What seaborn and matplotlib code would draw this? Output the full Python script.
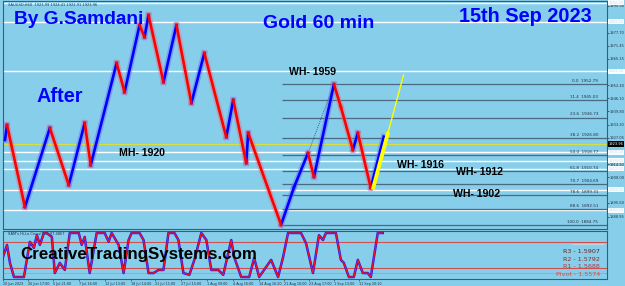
import matplotlib
matplotlib.use("Agg")
import matplotlib.pyplot as plt
import matplotlib.transforms as mtransforms
import numpy as np
import pandas as pd
import seaborn as sns

# ---------------- data ----------------
# price path pivots (bar position, price)
pivot_bar = [3, 5, 23, 48, 67, 83, 89, 115, 123, 138, 143, 147, 162, 175, 190, 203,
             225, 232, 245, 247, 280, 293, 307, 313, 333, 340, 352, 357, 370, 383]
pivot_price = [1925.9, 1933.1, 1893.6, 1931.7, 1904.2, 1934.1, 1913.8, 1963.0, 1949.0,
               1981.3, 1975.5, 1986.1, 1953.8, 1981.3, 1943.7, 1967.8, 1927.3, 1945.2,
               1914.8, 1929.3, 1885.0, 1903.2, 1919.6, 1908.1, 1952.8, 1941.8, 1921.1,
               1929.3, 1902.8, 1927.5]

# projection (yellow) and fib anchor
proj_bar = [372, 403]
proj_price = [1902.0, 1957.5]
fib_high = 1952.79
fib_low = 1884.75
fib_start_bar = 281
fib_levels = [0.0, 11.4, 23.6, 38.2, 50.0, 61.8, 70.7, 78.6, 88.6, 100.0]
fib_draw_from = [280, 333]

# white horizontal levels
white_levels = [1992.0, 1983.0, 1959.0, 1920.0, 1916.0, 1912.0, 1902.0, 1892.0]
current_price = 1923.96

level_labels = ["WH- 1959", "MH- 1920", "WH- 1916", "WH- 1912", "WH- 1902"]
level_label_bar = [288, 117, 396, 455, 452]
level_label_price = [1957.2, 1918.1, 1912.6, 1908.8, 1898.2]

# price axis ticks
price_ticks = [1990.50, 1977.70, 1971.45, 1965.15, 1952.40, 1946.10, 1939.80,
               1933.30, 1927.05, 1914.30, 1908.00, 1895.60, 1888.95]

# oscillator
osc_bar = [0, 5, 8, 12, 22, 28, 32, 35, 38, 42, 45, 50, 53, 58, 63, 68, 77, 80, 83, 88,
           95, 103, 107, 110, 117, 122, 127, 130, 138, 142, 147, 152, 157, 162, 167, 173,
           177, 182, 188, 193, 200, 205, 210, 217, 222, 230, 233, 240, 248, 253, 258, 270,
           277, 282, 287, 300, 305, 312, 318, 322, 325, 335, 340, 343, 348, 353, 357, 362,
           367, 370, 377, 382]
osc_val = [39, 73, 32, 0, 0, 80, 66, 95, 73, 100, 100, 91, 9, 32, 16, 100, 100, 73, 91, 9,
           100, 100, 80, 100, 73, 9, 84, 100, 100, 84, 9, 9, 16, 16, 100, 100, 84, 9, 5, 39,
           100, 84, 16, 16, 5, 84, 45, 0, 0, 43, 0, 39, 0, 45, 100, 100, 77, 9, 95, 84, 100,
           100, 39, 32, 0, 0, 39, 9, 9, 0, 100, 100]
osc_levels = [80, 20]

date_labels = ["20 Jun 2023", "26 Jun 17:00", "5 Jul 21:00", "7 Jul 16:00", "12 Jul 13:00",
               "18 Jul 14:00", "21 Jul 11:00", "27 Jul 15:00", "1 Aug 09:00", "4 Aug 16:00",
               "14 Aug 16:20", "21 Aug 10:00", "23 Aug 17:00", "1 Sep 13:00", "11 Sep 20:10"]
date_bar = [1, 26, 51, 77, 103, 129, 154, 180, 206, 232, 258, 283, 308, 333, 358]

pivot_names = ["R3 - 1.5907", "R2 - 1.5792", "R1 - 1.5688", "Pivot - 1.5574"]
pivot_colors = ["#6a2020", "#8a2a2a", "#c03030", "#e04a3a"]

# ---------------- style ----------------
BG = "#87CEEB"
W, H = 625, 286
plt.rcParams["font.family"] = ["Liberation Sans", "DejaVu Sans"]

fig = plt.figure(figsize=(W / 100, H / 100), dpi=100, facecolor=BG)

def ax_rect(x0, y0, x1, y1):
    return [x0 / W, 1 - y1 / H, (x1 - x0) / W, (y1 - y0) / H]

ax = fig.add_axes(ax_rect(3, 1, 607, 229), facecolor=BG)
ax2 = fig.add_axes(ax_rect(3, 231, 607, 279), facecolor=BG, sharex=ax)

ax.set_xlim(3, 607)
ax.set_ylim(1883.0, 1992.9)
ax2.set_ylim(-4.5, 104.5)

for a in (ax, ax2):
    for s in a.spines.values():
        s.set_color("#3c5c72")
        s.set_linewidth(0.8)

# white levels
for lv in white_levels:
    ax.axhline(lv, color="white", lw=1.0, zorder=1)
ax.axhline(current_price, color="#d8e040", lw=0.8, zorder=1)

# fib lines
rng = fib_high - fib_low
for lv in fib_levels:
    p = fib_high - rng * lv / 100.0
    ax.hlines(p, fib_start_bar, 607, color="#4a6a82", lw=0.9, zorder=1)
    ax.text(598, p + 0.6, f"{lv:.1f}  {p:.2f}", fontsize=3.0, color="#203040",
            ha="right", va="bottom", family="DejaVu Sans")

# dotted fib trend
ax.plot(fib_draw_from, [fib_low, fib_high], color="#2a3a50", lw=0.6, ls=(0, (1, 1.5)), zorder=2)

# price path segments
rows = []
for i in range(len(pivot_bar) - 1):
    d = "up" if pivot_price[i + 1] > pivot_price[i] else "down"
    rows.append(dict(seg=i, bar=pivot_bar[i], price=pivot_price[i], dir=d))
    rows.append(dict(seg=i, bar=pivot_bar[i + 1], price=pivot_price[i + 1], dir=d))
df = pd.DataFrame(rows)

sns.lineplot(data=df, x="bar", y="price", units="seg", hue="dir", estimator=None,
             palette={"up": "#6a6aff", "down": "#e07080"}, lw=4.2, alpha=0.45,
             legend=False, sort=False, ax=ax, zorder=3)
sns.lineplot(data=df, x="bar", y="price", units="seg", hue="dir", estimator=None,
             palette={"up": "#0000ff", "down": "#ff0000"}, lw=1.9,
             legend=False, sort=False, ax=ax, zorder=4)

# yellow projection (tapered)
ax.plot(proj_bar, proj_price, color="#ffff00", lw=1.0, zorder=5, solid_capstyle="butt")
mid_bar = [proj_bar[0], (proj_bar[0] + proj_bar[1]) / 2]
mid_price = [proj_price[0], (proj_price[0] + proj_price[1]) / 2]
ax.plot(mid_bar, mid_price, color="#ffff00", lw=2.8, zorder=5, solid_capstyle="butt")

# titles
ax.text(12, 1992.9 - (24.3 - 1) * 0.482, "By G.Samdani", fontsize=13.8, fontweight="bold",
        color="#0000ff", va="baseline", ha="left", zorder=6)
ax.text(262, 1992.9 - (28.3 - 1) * 0.482, "Gold 60 min", fontsize=14, fontweight="bold",
        color="#0000ff", va="baseline", ha="left", zorder=6)
ax.text(459, 1992.9 - (21.7 - 1) * 0.482, "15th Sep 2023", fontsize=14.3, fontweight="bold",
        color="#0000ff", va="baseline", ha="left", zorder=6)
ax.text(35, 1992.9 - (101.7 - 1) * 0.482, "After", fontsize=14.3, fontweight="bold",
        color="#0000ff", va="baseline", ha="left", zorder=6)

for t, b, p in zip(level_labels, level_label_bar, level_label_price):
    ax.text(b, p, t, fontsize=7.6, fontweight="bold", color="black",
            va="baseline", ha="left", zorder=6)

ax.text(6, 1992.9 - 4.5 * 0.482, "XAUUSD,H60  1923.99 1924.41 1922.91 1923.96",
        fontsize=2.6, color="#203040", va="center", ha="left", family="DejaVu Sans")

# price axis
ax.yaxis.tick_right()
ax.set_yticks(price_ticks)
ax.set_yticklabels([f"{v:.2f}" for v in price_ticks], fontsize=2.6, color="#203040",
                   family="DejaVu Sans")
ax.tick_params(axis="y", length=1.5, width=0.5, pad=0.5, colors="#203040")
ax.tick_params(axis="x", bottom=False, labelbottom=False)
ax.set_xlabel("")
ax.set_ylabel("")

trans = mtransforms.blended_transform_factory(ax.transAxes, ax.transData)
for lv in white_levels:
    ax.text(1.003, lv, f"{lv:.2f}", transform=trans, fontsize=2.6, color="#c8e4f0",
            va="center", ha="left", family="DejaVu Sans",
            bbox=dict(boxstyle="square,pad=0.15", fc="white", ec="none", alpha=0.95))
ax.text(1.003, current_price, f"{current_price:.2f}", transform=trans, fontsize=2.6,
        color="white", va="center", ha="left", family="DejaVu Sans",
        bbox=dict(boxstyle="square,pad=0.2", fc="black", ec="none"))

# oscillator panel
for lv in osc_levels:
    ax2.axhline(lv, color="#d05050", lw=0.8, zorder=1)
ax2.axhline(9, color="#e09090", lw=0.7, zorder=1)
odf = pd.DataFrame({"bar": osc_bar, "val": osc_val})
sns.lineplot(data=odf, x="bar", y="val", color="#1a1aff", lw=1.8, ax=ax2, zorder=3,
             estimator=None, sort=False)
sns.lineplot(data=odf, x="bar", y="val", color="#ff1010", lw=0.9, ax=ax2, zorder=4,
             estimator=None, sort=False)

ax2.text(6, 98, "SAM's Hi-Lo Cross(8,3) 97.4867", fontsize=2.6, color="#203040",
         va="center", ha="left", family="DejaVu Sans")
ax2.text(18, 51, "CreativeTradingSystems.com", fontsize=12.2, fontweight="bold",
         color="black", va="center", ha="left", zorder=6)

for i, (nm, c) in enumerate(zip(pivot_names, pivot_colors)):
    ax2.text(600, 57 - i * 17, nm, fontsize=4.6, color=c, ha="right", va="center",
             family="DejaVu Sans")
ax2.hlines(75, 572, 604, color="#c8d8e0", lw=0.6)

ax2.set_yticks([])
ax2.set_ylabel("")
ax2.set_xlabel("")
ax2.set_xticks(date_bar)
ax2.set_xticklabels(date_labels, fontsize=2.4, color="#203040", ha="left",
                    family="DejaVu Sans")
ax2.tick_params(axis="x", length=1.5, width=0.4, pad=1, colors="#203040")

fig.savefig("out.png", dpi=100, facecolor=BG)
